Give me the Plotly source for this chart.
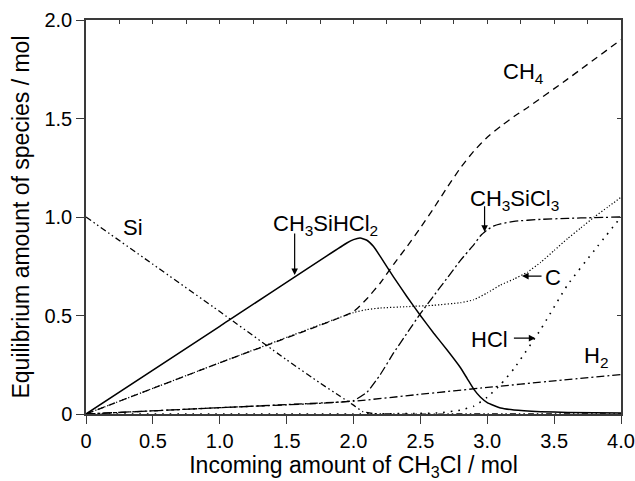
import plotly.graph_objects as go

# Equilibrium amounts of species vs. incoming CH3Cl (mol)
x_sihcl = [0, 1.0, 1.95, 2.0, 2.05, 2.1, 2.15, 2.2, 2.3, 2.4, 2.5, 2.6, 2.7, 2.8, 2.85, 2.9, 2.95, 3.0, 3.1, 3.2, 3.4, 3.6, 4.0]
y_sihcl = [0, 0.445, 0.868, 0.885, 0.893, 0.882, 0.85, 0.80, 0.695, 0.595, 0.50, 0.41, 0.325, 0.235, 0.18, 0.125, 0.085, 0.058, 0.03, 0.02, 0.012, 0.008, 0.005]

x_ch4 = [0, 1.0, 2.0, 2.1, 2.2, 2.3, 2.4, 2.5, 2.6, 2.7, 2.8, 2.9, 3.0, 3.1, 3.2, 3.3, 3.6, 4.0]
y_ch4 = [0, 0.26, 0.52, 0.585, 0.665, 0.76, 0.85, 0.945, 1.045, 1.15, 1.25, 1.335, 1.405, 1.46, 1.51, 1.555, 1.70, 1.90]

x_c = [0, 1.0, 2.0, 2.1, 2.2, 2.4, 2.6, 2.8, 2.9, 3.0, 3.1, 3.2, 3.3, 3.4, 3.5, 3.6, 3.7, 3.8, 3.9, 4.0]
y_c = [0, 0.26, 0.515, 0.53, 0.538, 0.545, 0.552, 0.565, 0.58, 0.615, 0.655, 0.685, 0.72, 0.77, 0.83, 0.89, 0.945, 1.0, 1.05, 1.10]

x_sicl = [0, 1.0, 1.8, 2.0, 2.1, 2.2, 2.3, 2.4, 2.5, 2.6, 2.7, 2.8, 2.9, 2.95, 3.0, 3.05, 3.1, 3.2, 3.4, 3.6, 3.8, 4.0]
y_sicl = [0, 0.032, 0.056, 0.068, 0.11, 0.20, 0.31, 0.41, 0.51, 0.60, 0.69, 0.78, 0.86, 0.905, 0.935, 0.955, 0.965, 0.978, 0.988, 0.993, 0.997, 1.0]

x_h2 = [0, 1.0, 2.0, 2.5, 3.0, 3.5, 4.0]
y_h2 = [0, 0.032, 0.065, 0.10, 0.135, 0.168, 0.20]

x_hcl = [0, 2.0, 2.5, 2.65, 2.8, 2.9, 3.0, 3.1, 3.2, 3.4, 3.6, 3.8, 4.0]
y_hcl = [0, 0, 0.003, 0.006, 0.02, 0.04, 0.085, 0.15, 0.23, 0.43, 0.655, 0.83, 1.0]

x_si = [0, 0.5, 1.0, 1.5, 1.75, 1.9, 2.0, 2.07, 2.15, 2.3, 3.0, 4.0]
y_si = [1.0, 0.76, 0.52, 0.275, 0.157, 0.09, 0.045, 0.012, 0.002, 0, 0, 0]

x_ticks = [0, 0.5, 1.0, 1.5, 2.0, 2.5, 3.0, 3.5, 4.0]
x_ticktext = ["0", "0.5", "1.0", "1.5", "2.0", "2.5", "3.0", "3.5", "4.0"]
y_ticks = [0, 0.5, 1.0, 1.5, 2.0]
y_ticktext = ["0", "0.5", "1.0", "1.5", "2.0"]

FONT = "Liberation Sans, Arial, Helvetica, sans-serif"
AX = "#3a3a3a"

series = [
    (x_si, y_si, "Si", "6px,3px,1.5px,3px,1.5px,3px", 1.3),
    (x_h2, y_h2, "H2", "8px,3px,2px,3px", 1.3),
    (x_sicl, y_sicl, "CH3SiCl3", "9px,3px,2px,3px", 1.3),
    (x_hcl, y_hcl, "HCl", "1.6px,6px", 1.6),
    (x_c, y_c, "C", "1.2px,2px", 1.2),
    (x_ch4, y_ch4, "CH4", "7px,5px", 1.3),
    (x_sihcl, y_sihcl, "CH3SiHCl2", "solid", 1.5),
]

fig = go.Figure()
for xs, ys, name, dash, w in series:
    fig.add_trace(go.Scatter(x=xs, y=ys, mode="lines", name=name,
                             line=dict(color="black", width=w, dash=dash, shape="spline", smoothing=0.4),
                             hoverinfo="skip"))

# invisible trace so the mirrored top/right axes are drawn
fig.add_trace(go.Scatter(x=[0], y=[0], xaxis="x2", yaxis="y2", mode="lines",
                         line=dict(width=0), opacity=0, hoverinfo="skip"))

fig.update_layout(
    template="none",
    width=635, height=481,
    margin=dict(l=86, r=14, t=20, b=67),
    paper_bgcolor="white", plot_bgcolor="white",
    showlegend=False,
    font=dict(family=FONT, color="black"),
    xaxis=dict(range=[0, 4], showline=True, linecolor=AX, linewidth=1.5,
               ticks="outside", ticklen=8, tickwidth=1.4, tickcolor=AX,
               tickvals=x_ticks, ticktext=x_ticktext, tickfont=dict(size=20),
               showgrid=False, zeroline=False, automargin=False,
               title=dict(text="Incoming amount of CH<sub>3</sub>Cl / mol",
                          font=dict(size=23), standoff=6)),
    yaxis=dict(range=[0, 2], showline=True, linecolor=AX, linewidth=1.5,
               ticks="outside", ticklen=8, tickwidth=1.4, tickcolor=AX,
               tickvals=y_ticks, ticktext=y_ticktext, tickfont=dict(size=20),
               showgrid=False, zeroline=False, automargin=False,
               title=dict(text="Equilibrium amount of species / mol",
                          font=dict(size=23), standoff=8)),
    xaxis2=dict(range=[0, 4], overlaying="x", side="top", anchor="y2",
                showline=True, linecolor=AX, linewidth=1.5,
                ticks="inside", ticklen=4, tickwidth=1.2, tickcolor=AX,
                dtick=0.25, tick0=0, showticklabels=False,
                showgrid=False, zeroline=False),
    yaxis2=dict(range=[0, 2], overlaying="y", side="right", anchor="x2",
                showline=True, linecolor=AX, linewidth=2,
                ticks="inside", ticklen=4, tickwidth=1.2, tickcolor=AX,
                dtick=0.5, tick0=0, showticklabels=False,
                showgrid=False, zeroline=False),
)

LBL = dict(size=22, family=FONT, color="black")
labels = [
    (3.27, 1.73, "CH<sub>4</sub>"),
    (0.35, 0.945, "Si"),
    (1.79, 0.96, "CH<sub>3</sub>SiHCl<sub>2</sub>"),
    (3.20, 1.085, "CH<sub>3</sub>SiCl<sub>3</sub>"),
    (3.49, 0.695, "C"),
    (3.02, 0.38, "HCl"),
    (3.81, 0.29, "H<sub>2</sub>"),
]
for x, y, t in labels:
    fig.add_annotation(x=x, y=y, text=t, showarrow=False, font=LBL,
                       xanchor="center", yanchor="middle")

arrows = [
    (1.56, 0.705, 0, -43),
    (2.98, 0.925, 0, -27),
    (3.26, 0.70, 21, 0),
    (3.36, 0.385, -23, 0),
]
for x, y, ax, ay in arrows:
    fig.add_annotation(x=x, y=y, ax=ax, ay=ay, text="", showarrow=True,
                       arrowhead=2, arrowsize=1.1, arrowwidth=1.2,
                       arrowcolor="black")

fig.write_html("out.html")
